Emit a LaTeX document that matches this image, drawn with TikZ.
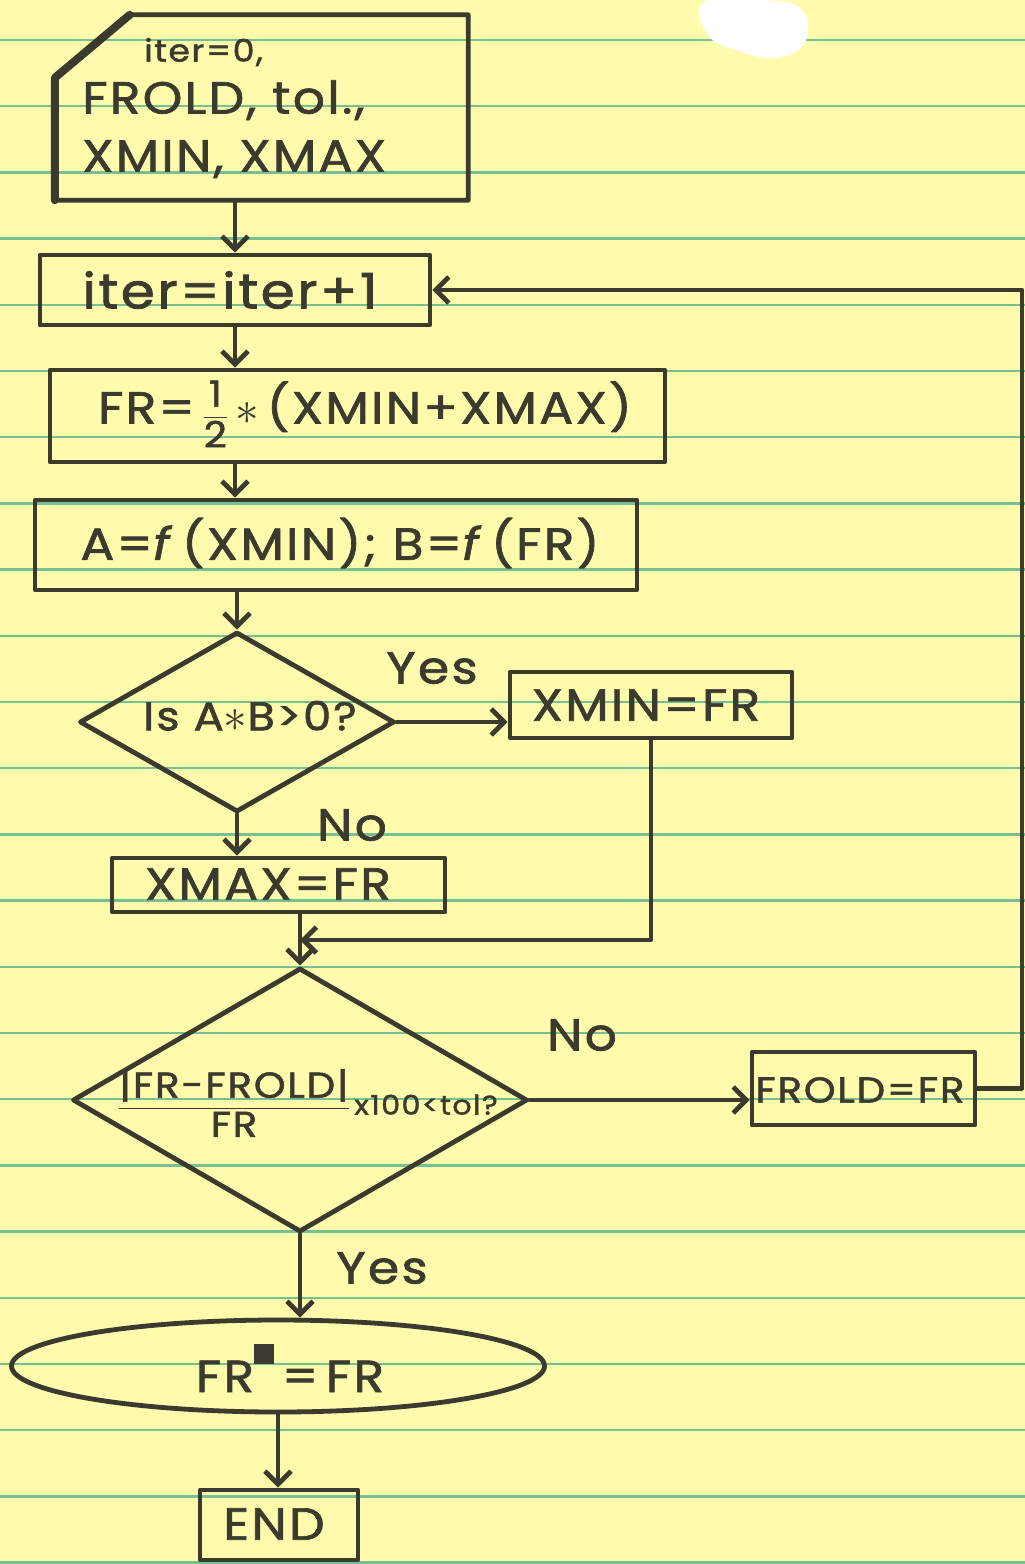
\documentclass[tikz,border=0pt]{standalone}
\usepackage{amsmath}
\usepackage{fontspec}
\setmainfont{Poppins}[FakeStretch=1.12, FakeBold=1.5, LetterSpace=5]
\usetikzlibrary{shapes.geometric,arrows.meta}
\definecolor{paper}{RGB}{255,250,172}
\definecolor{ruling}{RGB}{120,192,148}
\definecolor{ink}{RGB}{58,58,46}
\newcommand\handfont{\fontsize{45}{54}\selectfont}
\newcommand\midhand{\fontsize{36}{42}\selectfont}
\newcommand\smallhand{\fontsize{31}{36}\selectfont}
\newcommand\bigast{\raisebox{-0.02em}{\scalebox{1.9}{$\ast$}}}
\begin{document}
\begin{tikzpicture}[x=1pt,y=-1pt,
  every node/.style={text=ink},
  shapeline/.style={draw=ink, line width=4.8pt, line join=round},
  box/.style={shapeline, rectangle, inner sep=0pt, font=\handfont},
  decision/.style={shapeline, diamond, inner sep=0pt},
  term/.style={shapeline, ellipse, inner sep=0pt, font=\handfont},
  txt/.style={inner sep=0pt, font=\handfont},
  flow/.style={draw=ink, line width=4.8pt, line cap=round, line join=round},
  arr/.style={flow, -{Straight Barb[length=13pt,width=26pt,line width=4.8pt]}}]
% paper
\fill[paper] (0,0) rectangle (1025,1564);
\useasboundingbox (0,0) rectangle (1025,1564);
\foreach \k in {0,...,23}{
  \draw[ruling, line width=2.5pt] (0,{40+66.2*\k}) -- (1025,{40+66.2*\k});
}
\fill[white] plot[smooth cycle, tension=0.7] coordinates {(703,2) (760,0) (800,8) (806,40) (778,58) (735,50) (708,35)};
% nodes
\node[inner sep=0pt, minimum width=413pt, minimum height=185pt] (start) at (261.5,107.5) {};
\draw[shapeline] ([yshift=-63pt]start.north west) -- ([xshift=75pt]start.north west)
  -- (start.north east) -- (start.south east) -- (start.south west) -- cycle;
\draw[shapeline, line width=8pt, line cap=round] (start.south west) -- ([yshift=-63pt]start.north west) -- ([xshift=75pt]start.north west);
\node[txt, align=left, anchor=west] (starttxt) at (82,108)
  {\hspace*{62pt}{\smallhand iter=0,}\\[-2pt] FROLD, tol.,\\[4pt] XMIN, XMAX};
\node[box, minimum width=390pt, minimum height=70pt] (iter) at (235,290) {};
\node[txt, font=\fontsize{49}{54}\selectfont] (itertxt) at (230,290) {iter=iter+1};
\node[box, minimum width=615pt, minimum height=92pt] (fr) at (357.5,416) {};
\node[txt] (frtxt) at (365,414)
  {FR=\,{\midhand$\dfrac{\text{1}}{\text{2}}$}\,\bigast\,(XMIN+XMAX)};
\node[box, minimum width=602pt, minimum height=90pt] (ab) at (336,545) {};
\node[txt] (abtxt) at (340,543)
  {A=\textit{f}\,(XMIN); B=\textit{f}\,(FR)};
\node[decision, minimum width=315pt, minimum height=180pt] (d1) at (237,722) {};
\node[txt, font=\fontsize{40}{46}\selectfont] (d1txt) at (250,716) {Is A\bigast B>0?};
\node[box, minimum width=282pt, minimum height=66pt] (xmin) at (651,705) {};
\node[txt] (xmintxt) at (646,705) {XMIN=FR};
\node[txt] (yes1) at (432,668) {Yes};
\node[box, minimum width=333pt, minimum height=54pt] (xmax) at (278.5,885) {};
\node[txt] (xmaxtxt) at (268,884) {XMAX=FR};
\node[txt] (no1) at (352,825) {No};
\coordinate (merge) at (300,940);
\node[decision, minimum width=455pt, minimum height=264pt] (d2) at (300,1100) {};
\node[txt] (d2txt) at (308,1103)
  {{\midhand$\dfrac{\text{|FR-FROLD|}}{\text{FR}}$}{\fontsize{27}{30}\selectfont\,x100<tol?}};
\node[txt] (no2) at (582,1035) {No};
\node[box, minimum width=223pt, minimum height=73pt] (frold) at (863.5,1088.5) {};
\node[txt, font=\midhand] (froldtxt) at (860,1090) {FROLD=FR};
\coordinate (loopbr) at (1022,1088.5);
\coordinate (looptr) at (1022,290);
\node[txt] (yes2) at (382,1268) {Yes};
\node[term, minimum width=533pt, minimum height=92pt] (ell) at (278,1366) {};
\node[txt] (elltxt) at (290,1368) {FR\rule[0.62em]{0.45em}{0.45em}\,=\,FR};
\node[box, minimum width=158pt, minimum height=70pt] (endb) at (279,1525) {};
\node[txt] (endtxt) at (274,1524) {END};
% connectors
\draw[arr] (start.south -| iter.north) -- (iter.north);
\draw[arr] (iter.south) -- (iter.south |- fr.north);
\draw[arr] (iter.south |- fr.south) -- (iter.south |- ab.north);
\draw[arr] (d1.north |- ab.south) -- (d1.north);
\draw[arr] (d1.east) -- (d1.east -| xmin.west);
\draw[arr] (d1.south) -- (d1.south |- xmax.north);
\draw[arr] (xmin.south) -- (xmin.south |- merge) -- (merge);
\draw[arr] (xmax.south -| d2.north) -- (d2.north);
\draw[arr] (d2.east) -- (d2.east -| frold.west);
\draw[arr] (frold.east) -- (loopbr) -- (looptr) -- (iter.east);
\draw[arr] (d2.south) -- (d2.south |- ell.north);
\draw[arr] (ell.south) -- (ell.south |- endb.north);
\end{tikzpicture}
\end{document}
